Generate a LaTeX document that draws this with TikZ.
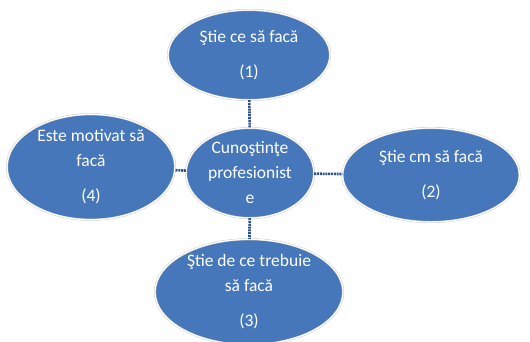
\documentclass[tikz,border=0pt]{standalone}
\usepackage{fontspec}
\setmainfont{Carlito}
\usetikzlibrary{shapes.geometric}
\definecolor{ovalblue}{HTML}{4677BA}
\definecolor{linkblue}{HTML}{2F5385}
\begin{document}
\begin{tikzpicture}[x=1pt,y=-1pt,
    oval/.style={ellipse,fill=ovalblue,draw=gray!45,double=white,double distance=1.2pt,
      inner sep=0pt,text=white,align=center,font=\fontsize{17.5}{25}\selectfont},
    link/.style={draw=linkblue,line width=2.6pt,dash pattern=on 2pt off 0.8pt}]
  \useasboundingbox (0,0) rectangle (530,341);
  \node[oval,minimum width=128pt,minimum height=90pt] (mid) at (250,173) {Cunoştinţe\\profesionist\\e};
  \node[oval,minimum width=162pt,minimum height=90pt] (top) at (249,55) {Ştie ce să facă\\[10pt](1)};
  \node[oval,minimum width=177pt,minimum height=94pt] (right) at (431,175) {Ştie cm să facă\\[10pt](2)};
  \node[oval,minimum width=188pt,minimum height=102pt] (bottom) at (249,292) {Ştie de ce trebuie\\să facă\\[10pt](3)};
  \node[oval,minimum width=168pt,minimum height=95pt] (left) at (91,167) {Este motivat să\\facă\\[10pt](4)};
  \draw[link] (top) -- (mid);
  \draw[link] (mid) -- (right);
  \draw[link] (mid) -- (bottom);
  \draw[link] (mid) -- (left);
\end{tikzpicture}
\end{document}
